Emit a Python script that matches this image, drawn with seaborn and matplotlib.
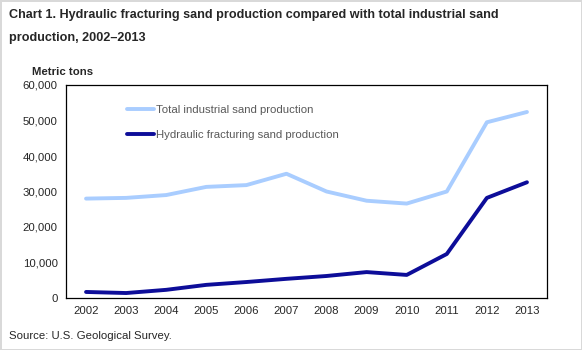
import numpy as np
import pandas as pd
import matplotlib.pyplot as plt
import seaborn as sns
from matplotlib.ticker import FuncFormatter, FixedLocator

# Data (metric tons)
years = ["2002", "2003", "2004", "2005", "2006", "2007",
         "2008", "2009", "2010", "2011", "2012", "2013"]
total_sand = [28000, 28200, 29000, 31300, 31800, 35000,
              30000, 27400, 26600, 30000, 49500, 52400]
frac_sand = [1700, 1400, 2300, 3700, 4500, 5400,
             6200, 7300, 6500, 12400, 28200, 32600]
series_names = ["Total industrial sand production", "Hydraulic fracturing sand production"]
colors = ["#A9CDFF", "#0D0D99"]

df = pd.DataFrame({
    "year": years * 2,
    "tons": total_sand + frac_sand,
    "series": [series_names[0]] * len(years) + [series_names[1]] * len(years),
})
df["pos"] = list(range(len(years))) * 2

sns.set_style("white")
plt.rcParams['font.family'] = ['Liberation Sans', 'DejaVu Sans']

fig = plt.figure(figsize=(5.82, 3.5), dpi=100)
fig.patch.set_edgecolor("#D9D9D9")
fig.patch.set_linewidth(2)
ax = fig.add_axes([66 / 582, 1 - 298 / 350, 481 / 582, 213 / 350])

sns.lineplot(data=df, x="pos", y="tons", hue="series", palette=colors,
             linewidth=2.8, ax=ax, legend=True)

ax.set_xlim(-0.5, len(years) - 0.5)
ax.set_ylim(0, 60000)
ax.set_yticks(np.arange(0, 60001, 10000))
ax.yaxis.set_major_formatter(FuncFormatter(lambda v, p: f"{int(v):,}"))
ax.xaxis.set_major_locator(FixedLocator(np.arange(-0.5, len(years), 1)))
ax.set_xticklabels([])
ax.xaxis.set_minor_locator(FixedLocator(np.arange(len(years))))
ax.set_xticklabels(years, minor=True)
ax.tick_params(axis="x", which="major", direction="in", length=4, width=0.8, color="black")
ax.tick_params(axis="x", which="minor", length=0, labelsize=8.2, pad=6)
ax.tick_params(axis="y", length=0, labelsize=8.2, pad=6)
ax.set_xlabel("")
ax.set_ylabel("")
for s in ax.spines.values():
    s.set_color("black")
    s.set_linewidth(0.9)

leg = ax.legend(loc="upper left", bbox_to_anchor=(0.127, 0.905), frameon=False,
                borderaxespad=0, borderpad=0,
                fontsize=8.2, handlelength=2.4, handletextpad=0.15, labelspacing=1.3)
for t in leg.get_texts():
    t.set_color("#595959")

fig.text(9 / 582, 1 - 15 / 350, "Chart 1. Hydraulic fracturing sand production compared with total industrial sand",
         fontsize=9.1, fontweight="bold", va="center", ha="left")
fig.text(9 / 582, 1 - 38 / 350, "production, 2002\u20132013",
         fontsize=9.1, fontweight="bold", va="center", ha="left")
fig.text(32 / 582, 1 - 72 / 350, "Metric tons", fontsize=8.2, fontweight="bold", va="center", ha="left")
fig.text(9 / 582, 1 - 336 / 350, "Source: U.S. Geological Survey.", fontsize=8.2, va="center", ha="left")

plt.savefig("out.png", dpi=100)
